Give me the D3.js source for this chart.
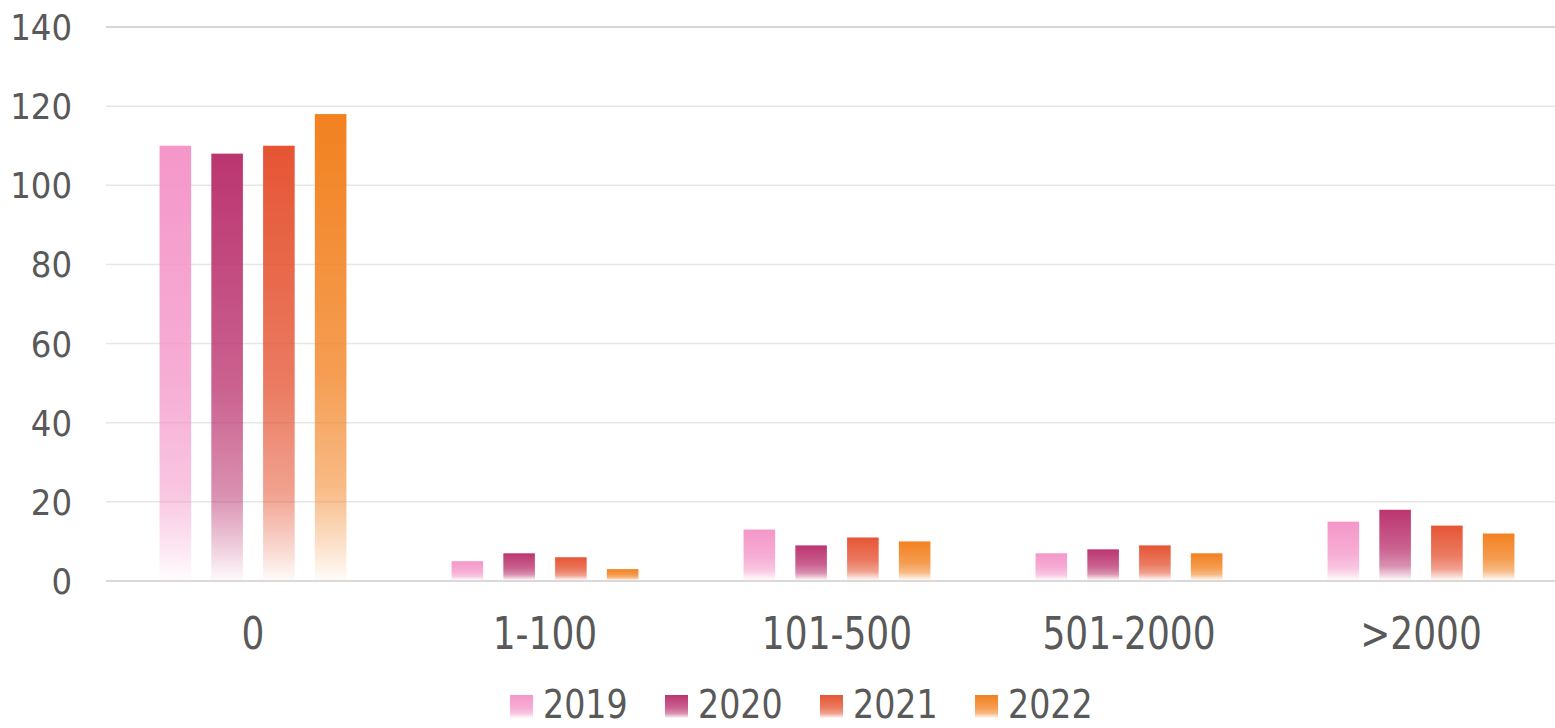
<!DOCTYPE html>
<html>
<head>
<meta charset="utf-8">
<script src="https://cdn.jsdelivr.net/npm/d3@7"></script>
<style>
  body { margin: 0; background: #fff; }
  text { font-family: "DejaVu Sans Condensed", "Liberation Sans Narrow", sans-serif; fill: #595959; }
</style>
</head>
<body>
<div id="chart"></div>
<script>
// data
const categories = ['0', '1-100', '101-500', '501-2000', '>2000'];
const years = ['2019', '2020', '2021', '2022'];
const values2019 = [110, 5, 13, 7, 15];
const values2020 = [108, 7, 9, 8, 18];
const values2021 = [110, 6, 11, 9, 14];
const values2022 = [118, 3, 10, 7, 12];
const yTicks = [0, 20, 40, 60, 80, 100, 120, 140];
const colors = ['#f497c9', '#bb3570', '#e55534', '#f28120'];

const series = [values2019, values2020, values2021, values2022];

const width = 1555, height = 728;
const margin = { top: 27, right: 0, bottom: 147, left: 106 };

const svg = d3.select('#chart')
  .append('svg')
  .attr('width', width)
  .attr('height', height);

// gradients: full colour at top fading to white at the bottom
const defs = svg.append('defs');
colors.forEach((c, i) => {
  const g = defs.append('linearGradient')
    .attr('id', 'grad' + i)
    .attr('x1', 0).attr('y1', 0).attr('x2', 0).attr('y2', 1);
  [[0, 1], [0.55, 0.78], [0.8, 0.55], [0.92, 0.25], [1, 0.03]].forEach(s => {
    g.append('stop')
      .attr('offset', s[0])
      .attr('stop-color', c)
      .attr('stop-opacity', s[1]);
  });
});

// bands are a little wider than the plot, as in the original
const x = d3.scaleBand()
  .domain(categories)
  .range([107, 1567])
  .paddingInner(0)
  .paddingOuter(0);

const xInner = d3.scaleBand()
  .domain(years)
  .range([0, x.bandwidth() * 0.64])
  .paddingInner(0.39);

const y = d3.scaleLinear()
  .domain([0, 140])
  .range([height - margin.bottom, margin.top]);

// grid lines
svg.append('g')
  .selectAll('line')
  .data(yTicks)
  .enter()
  .append('line')
  .attr('x1', margin.left)
  .attr('x2', width - margin.right)
  .attr('y1', d => y(d))
  .attr('y2', d => y(d))
  .attr('stroke', d => d === 0 ? '#d9d9d9' : (d === 140 ? '#c8c8c8' : '#e6e6e6'))
  .attr('stroke-width', d => d === 0 ? 2 : 1.5);

// y axis labels
svg.append('g')
  .selectAll('text')
  .data(yTicks)
  .enter()
  .append('text')
  .attr('x', 72)
  .attr('y', d => y(d))
  .attr('dy', '0.36em')
  .attr('text-anchor', 'end')
  .style('font-size', '36px')
  .text(d => d);

// bars
const groupOffset = (x.bandwidth() - xInner.range()[1]) / 2;
years.forEach((yr, i) => {
  svg.append('g')
    .selectAll('rect')
    .data(series[i])
    .enter()
    .append('rect')
    .attr('x', (d, j) => x(categories[j]) + groupOffset + xInner(yr))
    .attr('y', d => y(d))
    .attr('width', xInner.bandwidth())
    .attr('height', d => y(0) - y(d) - 1)
    .attr('fill', 'url(#grad' + i + ')');
});

// x labels (the original font is a bit taller, so stretch vertically)
svg.append('g')
  .selectAll('text')
  .data(categories)
  .enter()
  .append('text')
  .attr('transform', d => `translate(${x(d) + x.bandwidth() / 2},649) scale(1,1.1)`)
  .attr('text-anchor', 'middle')
  .style('font-size', '40px')
  .text(d => d);

// legend
const legend = svg.append('g')
  .selectAll('g')
  .data(years)
  .enter()
  .append('g')
  .attr('transform', (d, i) => `translate(${510 + i * 155},0)`);

legend.append('rect')
  .attr('x', 0)
  .attr('y', 695)
  .attr('width', 23)
  .attr('height', 23)
  .attr('fill', (d, i) => 'url(#grad' + i + ')');

legend.append('text')
  .attr('transform', 'translate(33,718) scale(1,1.05)')
  .style('font-size', '37px')
  .text(d => d);
</script>
</body>
</html>
